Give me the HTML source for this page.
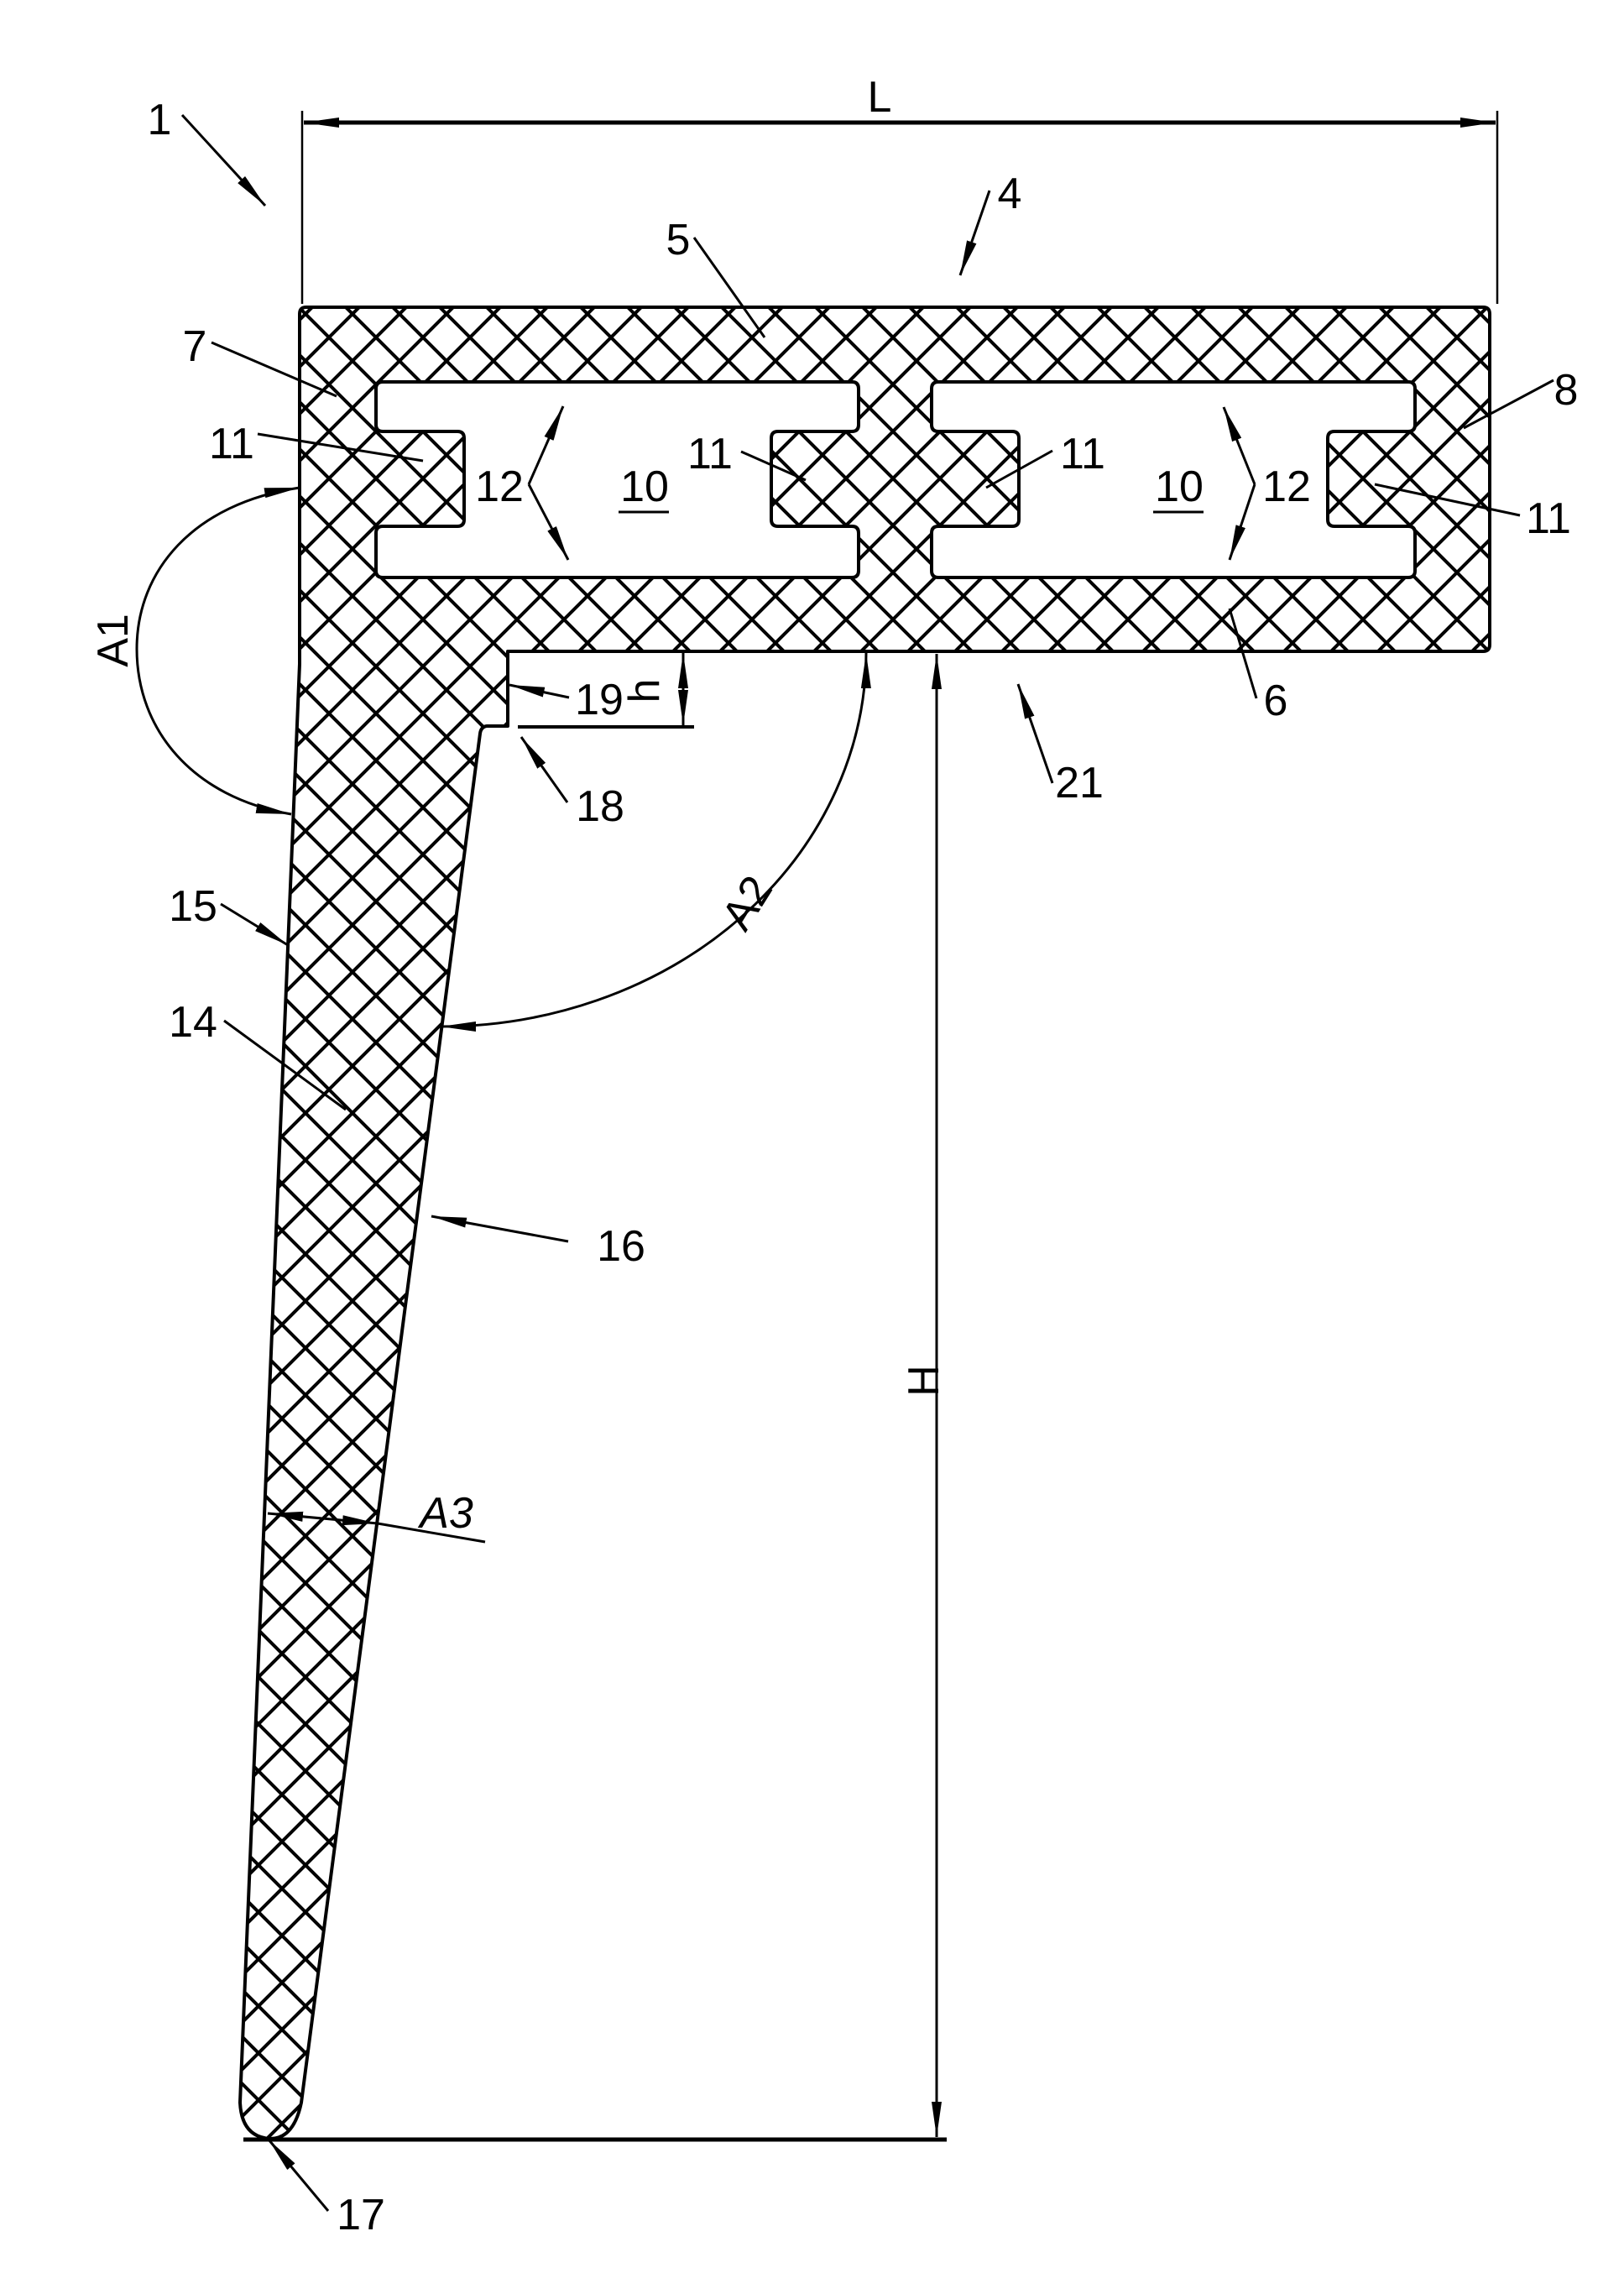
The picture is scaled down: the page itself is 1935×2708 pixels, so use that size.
<!DOCTYPE html>
<html><head><meta charset="utf-8"><style>
html,body{margin:0;padding:0;background:#fff}
svg{display:block}
text{font-family:"Liberation Sans",sans-serif;font-size:52px;fill:#000}
</style></head><body>
<svg width="1935" height="2708" viewBox="0 0 1935 2708" xmlns="http://www.w3.org/2000/svg">
<defs>
<pattern id="hx" patternUnits="userSpaceOnUse" width="56" height="56" x="0" y="10">
<path d="M-5,-5 L61,61 M-5,61 L61,-5" stroke="#000" stroke-width="4"/>
</pattern>
<marker id="ar" markerUnits="userSpaceOnUse" markerWidth="46" markerHeight="18" refX="42" refY="7" orient="auto">
<path d="M0,1 L42,7 L0,13 Z" fill="#000"/>
</marker>
<marker id="as" markerUnits="userSpaceOnUse" markerWidth="46" markerHeight="18" refX="0" refY="7" orient="auto">
<path d="M42,1 L0,7 L42,13 Z" fill="#000"/>
</marker>
</defs>

<path fill="url(#hx)" fill-rule="evenodd" stroke="#000" stroke-width="4" stroke-linejoin="round" d="
M365,366 L1767,366 Q1775,366 1775,374 L1775,768 Q1775,776 1767,776 L605,776 L605,865 L580,865 Q573,866 572,874 L359,2505 Q350,2548 322,2548 Q288,2546 286,2505 L357,791 L357,374 Q357,366 365,366 Z
M456,455 L1015,455 Q1023,455 1023,463 L1023,506 Q1023,514 1015,514 L927,514 Q919,514 919,522 L919,619 Q919,627 927,627 L1015,627 Q1023,627 1023,635 L1023,680 Q1023,688 1015,688 L456,688 Q448,688 448,680 L448,635 Q448,627 456,627 L545,627 Q553,627 553,619 L553,522 Q553,514 545,514 L456,514 Q448,514 448,506 L448,463 Q448,455 456,455 Z
M1118,455 L1678,455 Q1686,455 1686,463 L1686,506 Q1686,514 1678,514 L1590,514 Q1582,514 1582,522 L1582,619 Q1582,627 1590,627 L1678,627 Q1686,627 1686,635 L1686,680 Q1686,688 1678,688 L1118,688 Q1110,688 1110,680 L1110,635 Q1110,627 1118,627 L1206,627 Q1214,627 1214,619 L1214,522 Q1214,514 1206,514 L1118,514 Q1110,514 1110,506 L1110,463 Q1110,455 1118,455 Z"/>

<g stroke="#000" fill="none" stroke-width="3">
<line x1="360" y1="132" x2="360" y2="362" stroke-width="2.5"/>
<line x1="1784" y1="132" x2="1784" y2="362" stroke-width="2.5"/>
<line x1="362" y1="146" x2="1782" y2="146" stroke-width="5" marker-start="url(#as)" marker-end="url(#ar)"/>
<line x1="290" y1="2549" x2="1128" y2="2549" stroke-width="5"/>
<line x1="1116" y1="779" x2="1116" y2="2546" stroke-width="3" marker-start="url(#as)" marker-end="url(#ar)"/>
<line x1="617" y1="866" x2="827" y2="866" stroke-width="4"/>
<line x1="814" y1="821" x2="814" y2="778" stroke-width="3" marker-end="url(#ar)"/>
<line x1="814" y1="821" x2="814" y2="864" stroke-width="3" marker-end="url(#ar)"/>
<path d="M357,581 C230,600 163,680 163,773 C163,870 230,950 347,970" stroke-width="3" marker-start="url(#as)" marker-end="url(#ar)"/>
<path d="M1032,778 A507,446 0 0 1 525,1223" stroke-width="3" marker-start="url(#as)" marker-end="url(#ar)"/>
<line x1="384" y1="1809" x2="319" y2="1803" stroke-width="3" marker-end="url(#ar)"/>
<line x1="384" y1="1809" x2="450" y2="1815" stroke-width="3" marker-end="url(#ar)"/>
<line x1="450" y1="1815" x2="578" y2="1837" stroke-width="3"/>
<g stroke-width="3">
<line x1="217" y1="137" x2="316" y2="245" marker-end="url(#ar)"/>
<line x1="1179" y1="227" x2="1144" y2="328" marker-end="url(#ar)"/>
<line x1="263" y1="1077" x2="343" y2="1126" marker-end="url(#ar)"/>
<line x1="677" y1="1479" x2="514" y2="1449" marker-end="url(#ar)"/>
<line x1="391" y1="2634" x2="320" y2="2549" marker-end="url(#ar)"/>
<line x1="676" y1="956" x2="621" y2="878" marker-end="url(#ar)"/>
<line x1="678" y1="831" x2="607" y2="816" marker-end="url(#ar)"/>
<line x1="1254" y1="933" x2="1213" y2="815" marker-end="url(#ar)"/>
<line x1="630" y1="577" x2="671" y2="484" marker-end="url(#ar)"/>
<line x1="630" y1="577" x2="677" y2="667" marker-end="url(#ar)"/>
<line x1="1495" y1="577" x2="1458" y2="485" marker-end="url(#ar)"/>
<line x1="1495" y1="577" x2="1465" y2="667" marker-end="url(#ar)"/>
<line x1="827" y1="283" x2="911" y2="402"/>
<line x1="252" y1="408" x2="401" y2="472"/>
<line x1="1851" y1="453" x2="1744" y2="510"/>
<line x1="307" y1="517" x2="504" y2="549"/>
<line x1="883" y1="538" x2="960" y2="572"/>
<line x1="1254" y1="537" x2="1175" y2="581"/>
<line x1="1811" y1="614" x2="1638" y2="577"/>
<line x1="1497" y1="832" x2="1465" y2="725"/>
<line x1="267" y1="1216" x2="412" y2="1322"/>
</g>
<line x1="737" y1="610" x2="797" y2="610" stroke-width="3"/>
<line x1="1374" y1="610" x2="1434" y2="610" stroke-width="3"/>
</g>

<text x="190" y="160" text-anchor="middle">1</text>
<text x="1048" y="133" text-anchor="middle">L</text>
<text x="1203" y="248" text-anchor="middle">4</text>
<text x="808" y="303" text-anchor="middle">5</text>
<text x="232" y="430" text-anchor="middle">7</text>
<text x="1866" y="482" text-anchor="middle">8</text>
<text x="276" y="546" text-anchor="middle">11</text>
<text x="846" y="558" text-anchor="middle">11</text>
<text x="1290" y="558" text-anchor="middle">11</text>
<text x="1845" y="635" text-anchor="middle">11</text>
<text x="595" y="597" text-anchor="middle">12</text>
<text x="1533" y="597" text-anchor="middle">12</text>
<text x="768" y="597" text-anchor="middle">10</text>
<text x="1405" y="597" text-anchor="middle">10</text>
<text x="1520" y="852" text-anchor="middle">6</text>
<text x="1286" y="950" text-anchor="middle">21</text>
<text x="714" y="851" text-anchor="middle">19</text>
<text x="715" y="978" text-anchor="middle">18</text>
<text x="230" y="1097" text-anchor="middle">15</text>
<text x="230" y="1235" text-anchor="middle">14</text>
<text x="740" y="1502" text-anchor="middle">16</text>
<text x="430" y="2656" text-anchor="middle">17</text>
<text x="532" y="1820" text-anchor="middle" font-style="italic">A3</text>
<text transform="translate(152,763) rotate(-90)" text-anchor="middle">A1</text>
<text transform="translate(905,1085) rotate(-58)" text-anchor="middle">A2</text>
<text transform="translate(1118,1645) rotate(-90)" text-anchor="middle">H</text>
<text transform="translate(785,823) rotate(-90)" text-anchor="middle" font-size="40">h</text>
</svg>
</body></html>
